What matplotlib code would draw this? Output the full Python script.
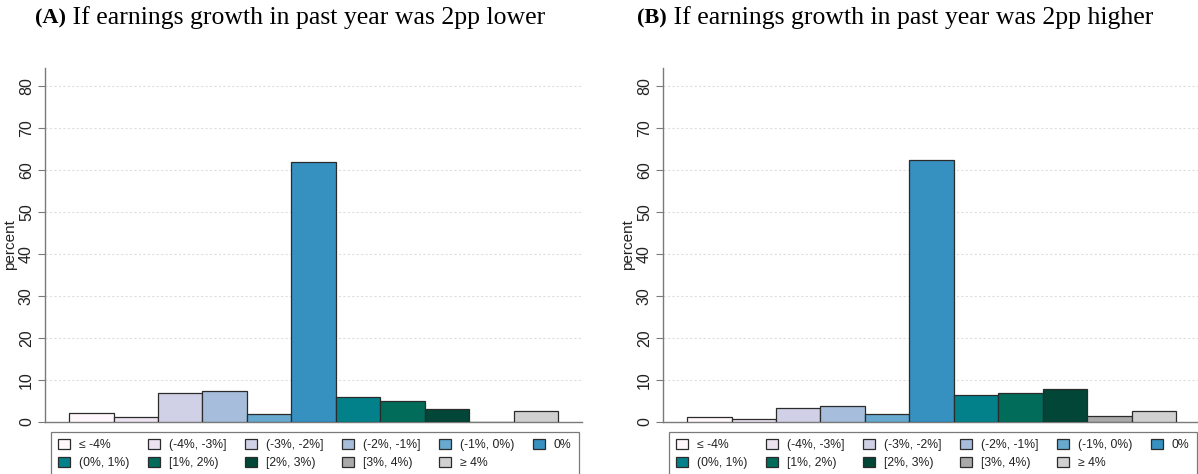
import numpy as np
import matplotlib
matplotlib.use("Agg")
import matplotlib.pyplot as plt

plt.rcParams['font.family'] = ['Liberation Sans', 'DejaVu Sans']

# bins of the expected earnings change
categories = ["≤ -4%", "(-4%, -3%]", "(-3%, -2%]", "(-2%, -1%]", "(-1%, 0%)", "0%",
              "(0%, 1%)", "[1%, 2%)", "[2%, 3%)", "[3%, 4%)", "≥ 4%"]

# percent of respondents in each bin
lower_2pp = [2.1, 1.3, 6.8, 7.4, 2.0, 62.0, 6.0, 5.0, 3.2, 0.0, 2.6]
higher_2pp = [1.1, 0.6, 3.4, 3.7, 2.0, 62.4, 6.5, 6.9, 7.8, 1.4, 2.6]

panel_titles = [("(A)", " If earnings growth in past year was 2pp lower"),
                ("(B)", " If earnings growth in past year was 2pp higher")]

# PuBuGn palette + greys
colors = ['#fff7fb', '#ece2f0', '#d0d1e6', '#a6bddb', '#67a9cf', '#3690c0',
          '#02818a', '#016c59', '#014636', '#a9a9a9', '#d0d0d0']

W, H = 1198, 474
fig = plt.figure(figsize=(W / 100, H / 100), dpi=100)

# axes boxes in pixels: left, top, right, bottom
boxes = [(45, 68, 582, 422), (663, 68, 1200, 422)]
title_x = [35, 637]

# legend is filled row by row (matplotlib fills by column)
order = [0, 6, 1, 7, 2, 8, 3, 9, 4, 10, 5]

for k, (vals, box) in enumerate(zip([lower_2pp, higher_2pp], boxes)):
    l, t, r, b = box
    ax = fig.add_axes([l / W, 1 - b / H, (r - l) / W, (b - t) / H])
    x = np.arange(len(categories))
    bars = ax.bar(x, vals, width=1.0, color=colors, edgecolor='#2b2b2b', linewidth=0.9, zorder=3)

    ax.set_xlim(-1.04, 11.03)
    ax.set_ylim(0, 84.3)
    ax.set_yticks(np.arange(0, 81, 10))
    ax.set_xticks([])
    ax.tick_params(axis='y', direction='out', length=5, width=0.8, color='#7a7a7a',
                   labelsize=11.5, labelcolor='#222222', pad=3)
    for lab in ax.get_yticklabels():
        lab.set_rotation(90)
        lab.set_va('center')
    ax.set_ylabel('percent', fontsize=11, color='#222222', labelpad=1)

    for y in range(10, 81, 10):
        ax.axhline(y, color='#dedede', linestyle=(0, (2, 2)), linewidth=0.8, zorder=1)

    for side in ['top', 'right']:
        ax.spines[side].set_visible(False)
    for side in ['left', 'bottom']:
        ax.spines[side].set_color('#7a7a7a')
        ax.spines[side].set_linewidth(1.0)

    handles = [bars.patches[i] for i in order]
    labels = [categories[i] for i in order]
    leg = ax.legend(handles, labels, ncol=6, loc='upper left',
                    bbox_to_anchor=(6 / 537, -10 / 354 - 0.3, 528 / 537, 0.3),
                    mode='expand', borderaxespad=0, fontsize=8.8,
                    handlelength=0.95, handleheight=0.85, handletextpad=0.75,
                    labelspacing=0.45, borderpad=0.6, fancybox=False,
                    edgecolor='#7a7a7a', framealpha=1)
    leg.get_frame().set_linewidth(0.9)
    for txt in leg.get_texts():
        txt.set_color('#222222')

    tag, rest = panel_titles[k]
    t1 = fig.text(title_x[k] / W, 1 - 18 / H, tag, fontsize=16, fontweight='bold',
                  family=['Liberation Serif', 'DejaVu Serif'], va='center', ha='left')
    fig.canvas.draw()
    bb = t1.get_window_extent()
    fig.text(bb.x1 / W, 1 - 18 / H, rest, fontsize=18.5,
             family=['Liberation Serif', 'DejaVu Serif'], va='center', ha='left')

fig.savefig('out.png', dpi=100)
